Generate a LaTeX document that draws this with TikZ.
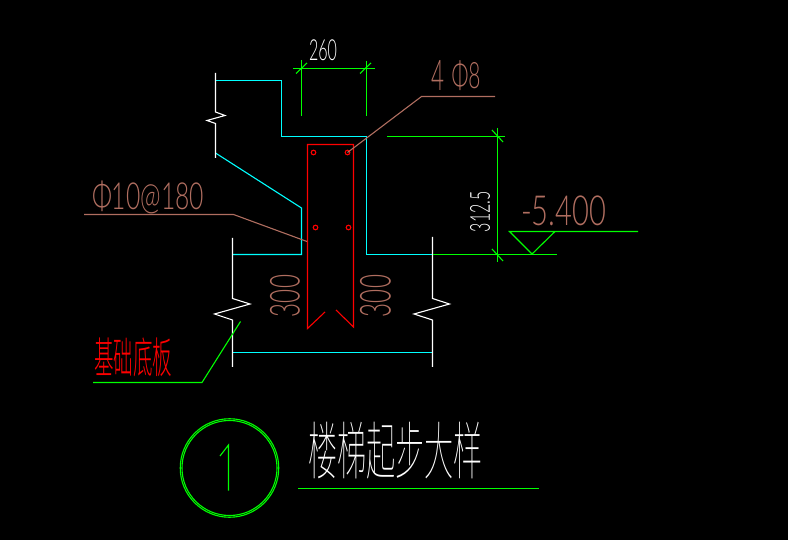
\documentclass[tikz,border=0pt]{standalone}
\usepackage{fontspec}
\usepackage{graphicx}
\setmainfont{Lato Light}
\newfontfamily\cjk{Noto Sans CJK SC Thin}
\newfontfamily\cjklight{Noto Sans CJK SC Light}
\definecolor{cadbrown}{HTML}{B06E60}
\definecolor{cadcyan}{RGB}{0,255,255}
\definecolor{cadgreen}{RGB}{0,255,0}
\definecolor{cadred}{RGB}{255,0,0}
\newcommand{\fitbox}[3]{\resizebox*{#1pt}{#2pt}{#3}}
\tikzset{
  cad/.style={line width=1.1pt,line join=miter},
  cy/.style={cad,draw=cadcyan},
  gr/.style={cad,draw=cadgreen},
  wh/.style={cad,draw=white},
  rd/.style={cad,draw=cadred},
  br/.style={cad,draw=cadbrown},
  lbl/.style={inner sep=0pt,outer sep=0pt,anchor=center},
  bar/.style={draw=cadred,line width=1.1pt,circle,inner sep=0pt,minimum size=4.6pt}
}
\begin{document}
\begin{tikzpicture}[x=1pt,y=-1pt]
\fill[black] (0,0) rectangle (788,540);
\useasboundingbox (0,0) rectangle (788,540);
% cyan outline
\draw[cy] (215.5,80.5) -- (281.5,80.5) -- (281.5,136.5) -- (366.5,136.5) -- (366.5,254.5) -- (432.5,254.5);
\draw[cy] (215.5,153) -- (301.5,208) -- (301.5,254.5) -- (232.5,254.5);
\draw[cy] (232.5,352.5) -- (432.5,352.5);
% white break lines
\draw[wh] (215.5,73) -- (215.5,112) -- (225,115.5) -- (207,120.5) -- (215.5,123.5) -- (215.5,158);
\draw[wh] (232.5,238) -- (232.5,298.5) -- (250,304) -- (214.5,314) -- (232.5,320) -- (232.5,367);
\draw[wh] (432.5,237) -- (432.5,298.5) -- (449.5,304) -- (414,314) -- (432.5,320) -- (432.5,367);
% red section
\draw[rd] (325,312) -- (307.5,328.5) -- (307.5,144.5) -- (353.5,144.5) -- (353.5,327) -- (336,310);
\node[bar] (b1) at (313.5,152.5) {};
\node[bar] (b2) at (347.5,152.5) {};
\node[bar] (b3) at (315.5,227.5) {};
\node[bar] (b4) at (348.5,227.5) {};
% dim 260
\draw[gr] (293,68.5) -- (375,68.5);
\draw[gr] (301.5,60) -- (301.5,116);
\draw[gr] (366.5,61) -- (366.5,116);
\draw[gr] (296,73.5) -- (307,63);
\draw[gr] (360,73.5) -- (371,63);
% dim 312.5
\draw[gr] (387,136.5) -- (505,136.5);
\draw[gr] (497.5,128) -- (497.5,262);
\draw[gr] (492,130) -- (503,142);
\draw[gr] (492,249) -- (503,261);
\draw[gr] (432.5,254.5) -- (557,254.5);
% elevation
\draw[gr] (638,231.5) -- (509.5,231.5) -- (532,254) -- (555,231.5);
% leaders
\coordinate (l1a) at (421.5,96.5);
\coordinate (l1b) at (495,96.5);
\draw[br] (b2.center) -- (l1a) -- (l1b);
\coordinate (l2a) at (84,214.5);
\coordinate (l2b) at (233.5,214.5);
\coordinate (l2c) at (307,241.5);
\draw[br] (l2a) -- (l2b) -- (l2c);
\draw[gr] (240.5,321.5) -- (202,382.5) -- (93,382.5);
% title
\node[draw=cadgreen,line width=1.1pt,circle,inner sep=0pt,minimum size=98.5pt] (c1) at (229.5,468) {};
\node[draw=cadgreen,line width=1.1pt,circle,inner sep=0pt,minimum size=95pt] (c2) at (229.5,468) {};
\draw[gr] (220,456) -- (228.5,445) -- (228.5,490.7);
\draw[gr] (298,488.5) -- (539,488.5);
% labels
\node[lbl,text=white] (t260) at (323,50.5) {\fitbox{28}{21}{260}};
\node[lbl,text=cadbrown] (t4a) at (438,76) {\fitbox{13}{30}{4}};
\node[lbl,text=cadbrown] (t4b) at (466,76) {\fitbox{29}{30}{Φ8}};
\node[lbl,text=white,rotate=90] (t312) at (480,211.5) {\fitbox{41}{20}{312.5}};
\node[lbl,text=cadbrown] (t54) at (563.5,211) {\fitbox{85}{30}{-5.400}};
\node[lbl,text=cadbrown] (t10) at (148,197.5) {\fitbox{112}{33}{Φ10@180}};
\node[lbl,text=cadbrown,rotate=90] (t3a) at (285,296) {\fitbox{42}{30}{300}};
\node[lbl,text=cadbrown,rotate=90] (t3b) at (375.5,296) {\fitbox{42}{31}{300}};
\node[lbl,text=cadred] (tj) at (133,357.5) {\fitbox{78}{39}{\cjklight 基础底板}};
\node[lbl,text=white] (tt) at (395.5,450.5) {\fitbox{175}{57}{\cjk 楼梯起步大样}};
\end{tikzpicture}
\end{document}
